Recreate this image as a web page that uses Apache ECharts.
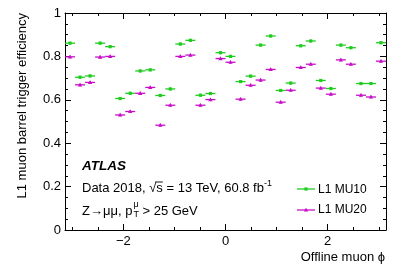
<!DOCTYPE html>
<html><head><meta charset="utf-8">
<script src="https://cdn.jsdelivr.net/npm/echarts@6/dist/echarts.min.js"></script>
<style>html,body{margin:0;padding:0;background:#fff}#c{width:407px;height:275px}</style>
</head><body><div id="c"></div>
<script>
const phiCenters = [-3.043, -2.847, -2.651, -2.454, -2.258, -2.062, -1.865, -1.669, -1.473, -1.276, -1.080, -0.884, -0.687, -0.491, -0.295, -0.098,
  0.098, 0.295, 0.491, 0.687, 0.884, 1.080, 1.276, 1.473, 1.669, 1.865, 2.062, 2.258, 2.454, 2.651, 2.847, 3.043];
const binHalfWidth = 0.098;
const effMU10 = [0.861, 0.704, 0.710, 0.861, 0.845, 0.606, 0.630, 0.733, 0.738, 0.620, 0.650, 0.857, 0.874, 0.621, 0.629, 0.817,
  0.800, 0.684, 0.709, 0.852, 0.894, 0.643, 0.677, 0.849, 0.871, 0.689, 0.652, 0.852, 0.840, 0.675, 0.675, 0.863];
const effMU20 = [0.798, 0.669, 0.680, 0.797, 0.800, 0.530, 0.546, 0.630, 0.657, 0.483, 0.575, 0.800, 0.806, 0.575, 0.601, 0.790,
  0.773, 0.603, 0.667, 0.691, 0.740, 0.589, 0.644, 0.749, 0.764, 0.654, 0.626, 0.784, 0.764, 0.621, 0.613, 0.778];
const xMajor = [-2, 0, 2];
const xMinor = [-3, -2.5, -1.5, -1, -0.5, 0.5, 1, 1.5, 2.5, 3];
const seriesNames = ['L1 MU10', 'L1 MU20'];

const GREEN = '#1fcc1f', MAGENTA = '#c80fc8';
const FONT = '"Liberation Sans", Arial, Helvetica, sans-serif';
const F13 = '13px ' + FONT;

const chart = echarts.init(document.getElementById('c'), null, {renderer: 'canvas'});

function makeRender(color, shape) {
  return function (params, api) {
    const x = api.value(0), y = api.value(1);
    const a = api.coord([x - binHalfWidth, y]);
    const b = api.coord([x + binHalfWidth, y]);
    const c = api.coord([x, y]);
    const children = [{
      type: 'line', shape: {x1: a[0], y1: a[1], x2: b[0], y2: b[1]},
      style: {stroke: color, lineWidth: 1.3}
    }, {
      type: 'line', shape: {x1: c[0], y1: c[1] - 1.5, x2: c[0], y2: c[1] + 1.5},
      style: {stroke: color, lineWidth: 1}
    }];
    if (shape === 'square') {
      children.push({type: 'rect', shape: {x: c[0] - 1.6, y: c[1] - 1.6, width: 3.2, height: 3.2}, style: {fill: color}});
    } else {
      children.push({type: 'polygon', shape: {points: [[c[0], c[1] - 2.2], [c[0] - 2.2, c[1] + 1.6], [c[0] + 2.2, c[1] + 1.6]]}, style: {fill: color}});
    }
    return {type: 'group', children};
  };
}

function axisX(pos, ticks, len, show, labels) {
  return {
    type: 'value', min: -Math.PI, max: Math.PI, position: pos, gridIndex: 0,
    axisLine: {show: show, onZero: false, lineStyle: {color: '#000', width: 1}},
    axisTick: {show: true, inside: true, length: len, customValues: ticks, lineStyle: {color: '#000', width: 1}},
    axisLabel: labels ? {show: true, customValues: ticks, margin: 5, color: '#000', fontSize: 13, fontFamily: FONT,
      formatter: v => (v < 0 ? '\u2212' + Math.abs(v) : String(v))} : {show: false},
    splitLine: {show: false}
  };
}
function axisY(pos, labels) {
  return {
    type: 'value', min: 0, max: 1, interval: 0.2, position: pos, gridIndex: 0,
    axisLine: {show: true, onZero: false, lineStyle: {color: '#000', width: 1}},
    axisTick: {show: true, inside: true, length: 6, lineStyle: {color: '#000', width: 1}},
    minorTick: {show: true, splitNumber: 4, length: 3, lineStyle: {color: '#000', width: 1}},
    axisLabel: labels ? {show: true, margin: 4, color: '#000', fontSize: 13, fontFamily: FONT,
      formatter: v => (v === 0 ? '0' : v === 1 ? '1' : v.toFixed(1))} : {show: false},
    splitLine: {show: false}
  };
}

// text measurement for composite labels
const cv = document.createElement('canvas').getContext('2d');
cv.font = F13;
const tx = 82;
const zPre = 'Z\u2192\u03bc\u03bc, p';
const zPreW = cv.measureText(zPre).width;
cv.font = '9px ' + FONT;
const supW = Math.max(cv.measureText('\u03bc').width, cv.measureText('T').width);
cv.font = F13;
const dataPre = 'Data 2018, \u221a';
const dataPreW = cv.measureText(dataPre).width;
const sW = cv.measureText('s').width;
const LF = '12px ' + FONT;

const graphics = [
  {type: 'text', style: {text: 'ATLAS', x: tx, y: 166, font: 'italic bold 13.5px ' + FONT, fill: '#000', verticalAlign: 'middle'}},
  {type: 'text', style: {text: 'Data 2018, \u221as = 13 TeV, 60.8 fb{s|-1}', x: tx, y: 188, font: F13, fill: '#000', verticalAlign: 'middle',
    rich: {s: {fontSize: 9, fontFamily: FONT, verticalAlign: 'top', padding: [0, 0, 9, 0]}}}},
  {type: 'line', shape: {x1: tx + dataPreW - 1, y1: 182, x2: tx + dataPreW + sW, y2: 182}, style: {stroke: '#000', lineWidth: 0.9}},
  {type: 'text', style: {text: zPre, x: tx, y: 211, font: F13, fill: '#000', verticalAlign: 'middle'}},
  {type: 'text', style: {text: '\u03bc', x: tx + zPreW + 1, y: 205, font: '9px ' + FONT, fill: '#000', verticalAlign: 'middle'}},
  {type: 'text', style: {text: 'T', x: tx + zPreW + 1, y: 215, font: '9px ' + FONT, fill: '#000', verticalAlign: 'middle'}},
  {type: 'text', style: {text: ' > 25 GeV', x: tx + zPreW + supW + 1, y: 211, font: F13, fill: '#000', verticalAlign: 'middle'}},
  // legend
  {type: 'line', shape: {x1: 297, y1: 189, x2: 315, y2: 189}, style: {stroke: GREEN, lineWidth: 1.3}},
  {type: 'rect', shape: {x: 304.4, y: 187.4, width: 3.2, height: 3.2}, style: {fill: GREEN}},
  {type: 'text', style: {text: seriesNames[0], x: 318, y: 189.5, font: LF, fill: '#000', verticalAlign: 'middle'}},
  {type: 'line', shape: {x1: 297, y1: 210, x2: 315, y2: 210}, style: {stroke: MAGENTA, lineWidth: 1.3}},
  {type: 'polygon', shape: {points: [[306, 207.8], [303.8, 211.6], [308.2, 211.6]]}, style: {fill: MAGENTA}},
  {type: 'text', style: {text: seriesNames[1], x: 318, y: 210, font: LF, fill: '#000', verticalAlign: 'middle'}},
  // axis titles
  {type: 'text', style: {text: 'Offline muon \u03d5', x: 385, y: 257, font: F13, fill: '#000', align: 'right', verticalAlign: 'middle'}},
  {type: 'text', rotation: Math.PI / 2, x: 22, y: 13, style: {text: 'L1 muon barrel trigger efficiency', x: 0, y: 0, font: F13, fill: '#000', align: 'right', verticalAlign: 'middle'}}
];

chart.setOption({
  animation: false,
  backgroundColor: '#fff',
  grid: {left: 65, right: 21, top: 13, bottom: 45, containLabel: false},
  xAxis: [
    axisX('bottom', xMajor, 6, true, true),
    axisX('bottom', xMinor, 3, false, false),
    axisX('top', xMajor, 6, true, false),
    axisX('top', xMinor, 3, false, false)
  ],
  yAxis: [axisY('left', true), axisY('right', false)],
  series: [
    {name: seriesNames[0], type: 'custom', xAxisIndex: 0, yAxisIndex: 0, encode: {x: 0, y: 1},
      data: phiCenters.map((p, i) => [p, effMU10[i]]), renderItem: makeRender(GREEN, 'square')},
    {name: seriesNames[1], type: 'custom', xAxisIndex: 0, yAxisIndex: 0, encode: {x: 0, y: 1},
      data: phiCenters.map((p, i) => [p, effMU20[i]]), renderItem: makeRender(MAGENTA, 'triangle')}
  ],
  graphic: graphics
});
</script>
</body></html>
